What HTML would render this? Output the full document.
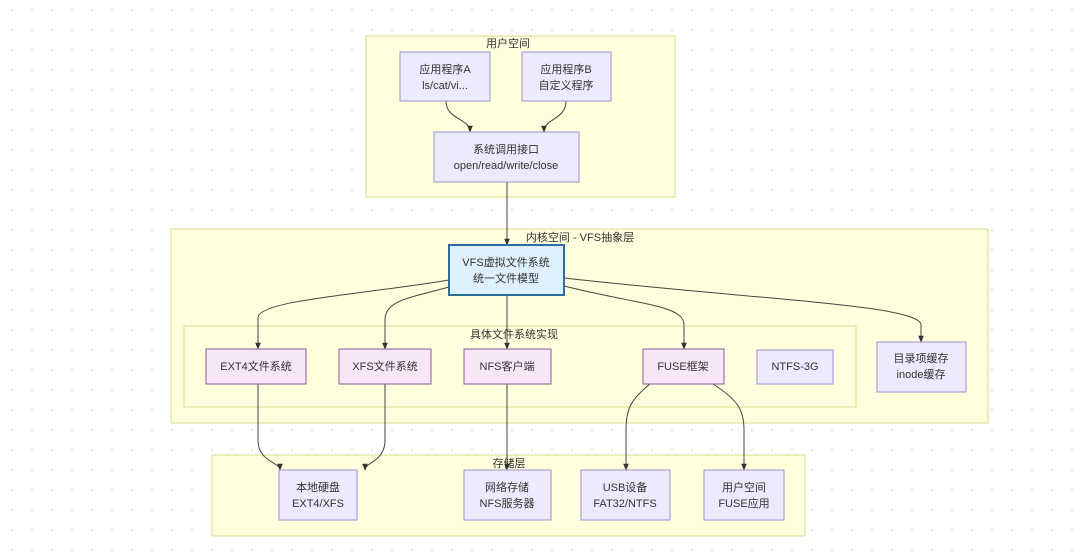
<!DOCTYPE html>
<html><head><meta charset="utf-8"><style>
html,body{margin:0;padding:0;}
body{width:1080px;height:556px;overflow:hidden;background:#fff;background-image:radial-gradient(circle,#e4e4e4 1px,transparent 1.3px);background-size:20px 20px;background-position:2px 0;}
svg{position:absolute;left:0;top:0;}
text{font-family:"Liberation Sans","Noto Sans CJK SC",sans-serif;font-size:11px;fill:#333;text-anchor:middle;}
.cl{fill:#ffffde;stroke:#d6dc8c;stroke-width:1;}
.n{fill:#ecebfd;stroke:#9b8fd6;stroke-width:1;}
.p{fill:#f6e6f6;stroke:#8a5a96;stroke-width:1;}
.e{fill:none;stroke:#444;stroke-width:1;}
</style></head><body>
<svg width="1080" height="556" viewBox="0 0 1080 556">
<defs><marker id="a" viewBox="0 0 10 10" refX="9" refY="5" markerWidth="7" markerHeight="7" orient="auto"><path d="M0,1 L10,5 L0,9 z" fill="#333"/></marker></defs>
<rect class="cl" x="366" y="36" width="309" height="161"/>
<text x="508" y="47">用户空间</text>
<rect class="cl" x="171" y="229" width="817" height="194"/>
<text x="580" y="241">内核空间 - VFS抽象层</text>
<rect class="cl" x="184" y="326" width="672" height="81"/>
<text x="514" y="338">具体文件系统实现</text>
<rect class="cl" x="212" y="455" width="593" height="81"/>
<text x="509" y="467">存储层</text>

<path class="e" marker-end="url(#a)" d="M446,101 C446,120 470,118 470,132"/>
<path class="e" marker-end="url(#a)" d="M566,101 C566,120 544,118 544,132"/>
<path class="e" marker-end="url(#a)" d="M507,182 L507,245"/>
<path class="e" marker-end="url(#a)" d="M449,280 C360,295 258,300 258,318 L258,349"/>
<path class="e" marker-end="url(#a)" d="M449,287 C410,298 385,300 385,320 L385,349"/>
<path class="e" marker-end="url(#a)" d="M507,295 L507,349"/>
<path class="e" marker-end="url(#a)" d="M564,286 C640,305 684,305 684,325 L684,349"/>
<path class="e" marker-end="url(#a)" d="M564,278 C760,300 921,305 921,325 L921,342"/>
<path class="e" marker-end="url(#a)" d="M258,384 L258,440 C258,462 280,462 280,470"/>
<path class="e" marker-end="url(#a)" d="M385,384 L385,440 C385,462 365,462 365,470"/>
<path class="e" marker-end="url(#a)" d="M507,384 L507,470"/>
<path class="e" marker-end="url(#a)" d="M650,384 C630,400 626,410 626,430 L626,470"/>
<path class="e" marker-end="url(#a)" d="M713,384 C738,400 744,410 744,430 L744,470"/>

<rect class="n" x="400" y="52" width="90" height="49"/>
<text x="445" y="73">应用程序A</text><text x="445" y="89">ls/cat/vi...</text>
<rect class="n" x="522" y="52" width="89" height="49"/>
<text x="566" y="73">应用程序B</text><text x="566" y="89">自定义程序</text>
<rect class="n" x="434" y="132" width="145" height="50"/>
<text x="506" y="153">系统调用接口</text><text x="506" y="169">open/read/write/close</text>
<rect x="449" y="245" width="115" height="50" fill="#ddf0fb" stroke="#2f6d9a" stroke-width="2"/>
<text x="506" y="266">VFS虚拟文件系统</text><text x="506" y="282">统一文件模型</text>

<rect class="p" x="206" y="349" width="100" height="35"/><text x="256" y="370">EXT4文件系统</text>
<rect class="p" x="339" y="349" width="92" height="35"/><text x="385" y="370">XFS文件系统</text>
<rect class="p" x="464" y="349" width="87" height="35"/><text x="507" y="370">NFS客户端</text>
<rect class="p" x="643" y="349" width="81" height="35"/><text x="683" y="370">FUSE框架</text>
<rect class="n" x="757" y="350" width="76" height="34"/><text x="795" y="370">NTFS-3G</text>
<rect class="n" x="877" y="342" width="89" height="50"/>
<text x="921" y="362">目录项缓存</text><text x="921" y="378">inode缓存</text>

<rect class="n" x="279" y="470" width="78" height="50"/>
<text x="318" y="491">本地硬盘</text><text x="318" y="507">EXT4/XFS</text>
<rect class="n" x="464" y="470" width="87" height="50"/>
<text x="507" y="491">网络存储</text><text x="507" y="507">NFS服务器</text>
<rect class="n" x="581" y="470" width="89" height="50"/>
<text x="625" y="491">USB设备</text><text x="625" y="507">FAT32/NTFS</text>
<rect class="n" x="704" y="470" width="80" height="50"/>
<text x="744" y="491">用户空间</text><text x="744" y="507">FUSE应用</text>
</svg>
</body></html>
